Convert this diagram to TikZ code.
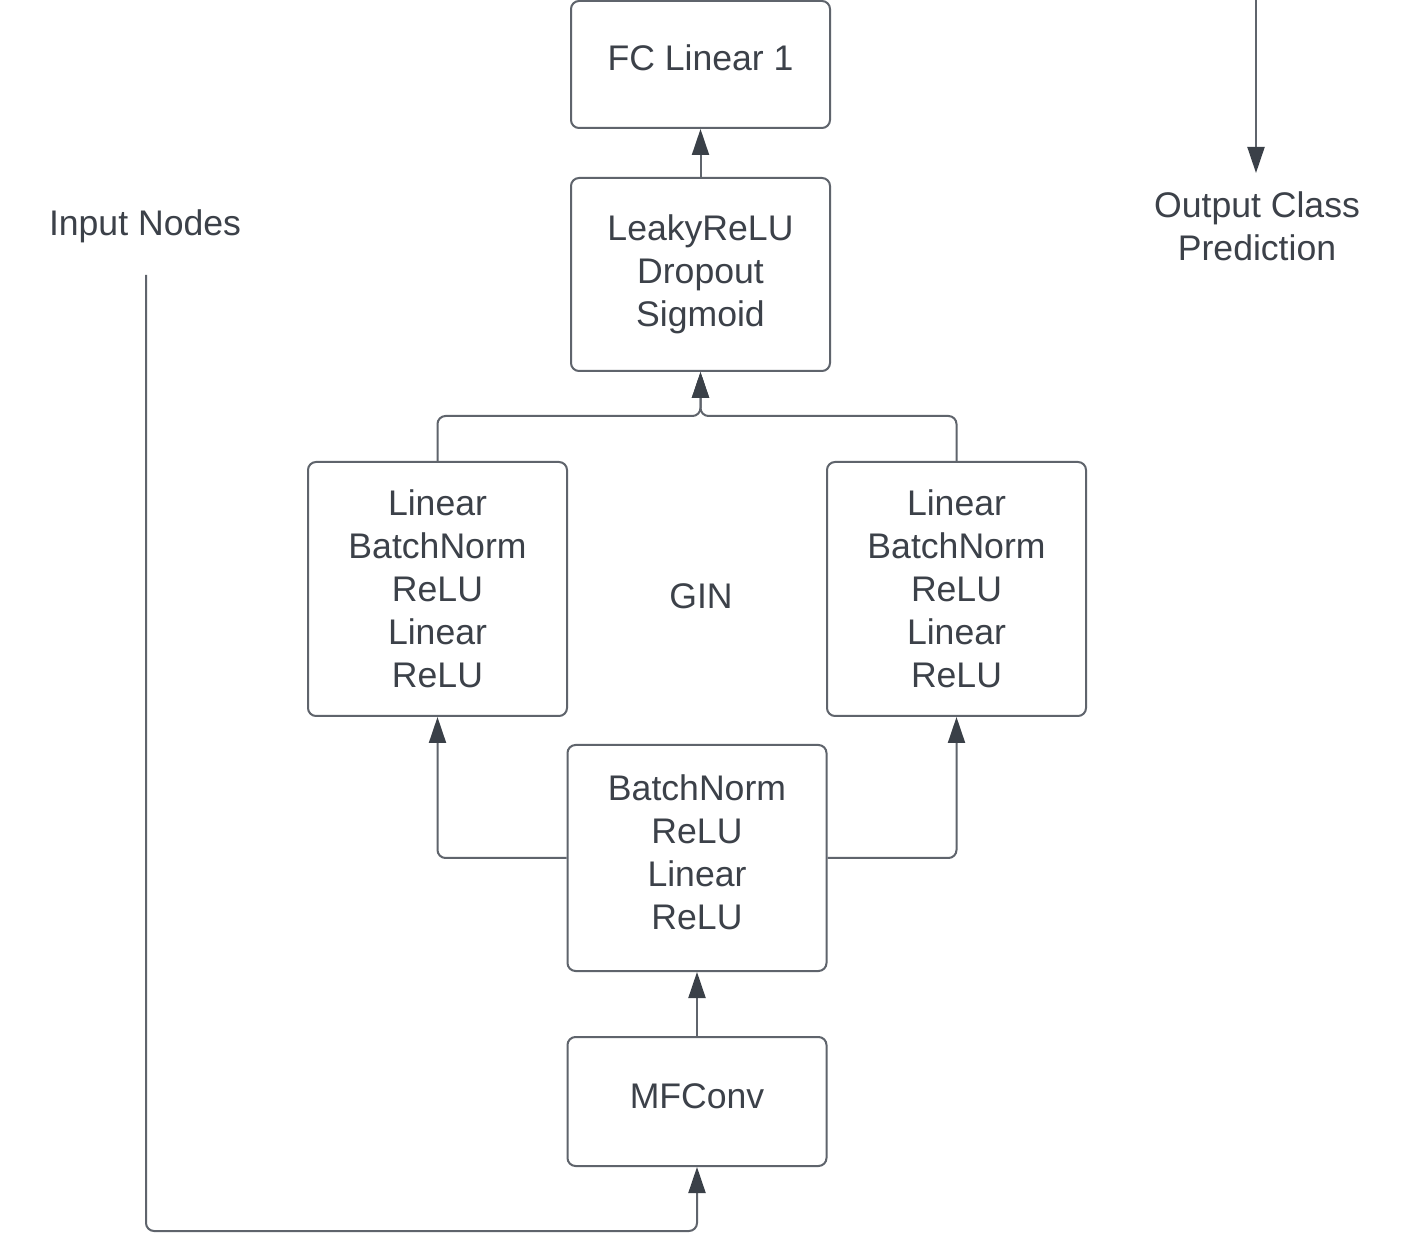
\documentclass[tikz,border=0pt]{standalone}
\usepackage{fontspec}
\setmainfont{Liberation Sans}
\usetikzlibrary{arrows.meta}
\definecolor{linec}{RGB}{95,100,108}
\definecolor{txtc}{RGB}{60,65,73}
\definecolor{tipc}{RGB}{58,64,72}
\begin{document}
\begin{tikzpicture}[x=0.5pt,y=-0.5pt,
  box/.style={draw=linec, line width=1pt, rounded corners=4pt, minimum width=129.5pt,
    align=center, text=txtc, font=\fontsize{17.8pt}{21.5pt}\selectfont, inner sep=0pt},
  lbl/.style={text=txtc, align=center, font=\fontsize{17.8pt}{21.5pt}\selectfont, inner sep=0pt},
  conn/.style={draw=linec, line width=1pt, rounded corners=4pt},
  arr/.style={conn, -{Triangle[length=13pt,width=8.5pt,color=tipc]}}]
\useasboundingbox[fill=white] (0,0) rectangle (1404,1256);

\node[box, minimum height=63.5pt, text depth=7pt] (fc) at (700.5,64.5) {FC Linear 1};
\node[box, minimum height=96.5pt] (leaky) at (700.5,274.5) {LeakyReLU\\Dropout\\Sigmoid};
\node[box, minimum height=127pt] (left) at (437.5,589) {Linear\\BatchNorm\\ReLU\\Linear\\ReLU};
\node[box, minimum height=127pt] (right) at (956.5,589) {Linear\\BatchNorm\\ReLU\\Linear\\ReLU};
\node[box, minimum height=113pt, text depth=6pt] (mid) at (697,858) {BatchNorm\\ReLU\\Linear\\ReLU};
\node[box, minimum height=64.5pt, text depth=5pt] (mf) at (697,1101.5) {MFConv};
\node[lbl] (gin) at (701,596) {GIN};
\node[lbl] (inp) at (145,226) {Input Nodes};
\node[lbl] (outp) at (1257,226) {Output Class\\Prediction};

\coordinate (join) at (700.5,416);
\coordinate (instart) at (146,275);
\coordinate (bend) at (146,1231);
\coordinate (outstart) at (1256,0);
\coordinate (outend) at (1256,173);

\draw[arr] (leaky.north) -- (fc.south);
\draw[arr] (left.north) |- (join) -- (leaky.south);
\draw[arr] (right.north) |- (join) -- (leaky.south);
\draw[arr] (mid.west) -| (left.south);
\draw[arr] (mid.east) -| (right.south);
\draw[arr] (mf.north) -- (mid.south);
\draw[arr] (instart) -- (bend) -| (mf.south);
\draw[arr] (outstart) -- (outend);
\end{tikzpicture}
\end{document}
